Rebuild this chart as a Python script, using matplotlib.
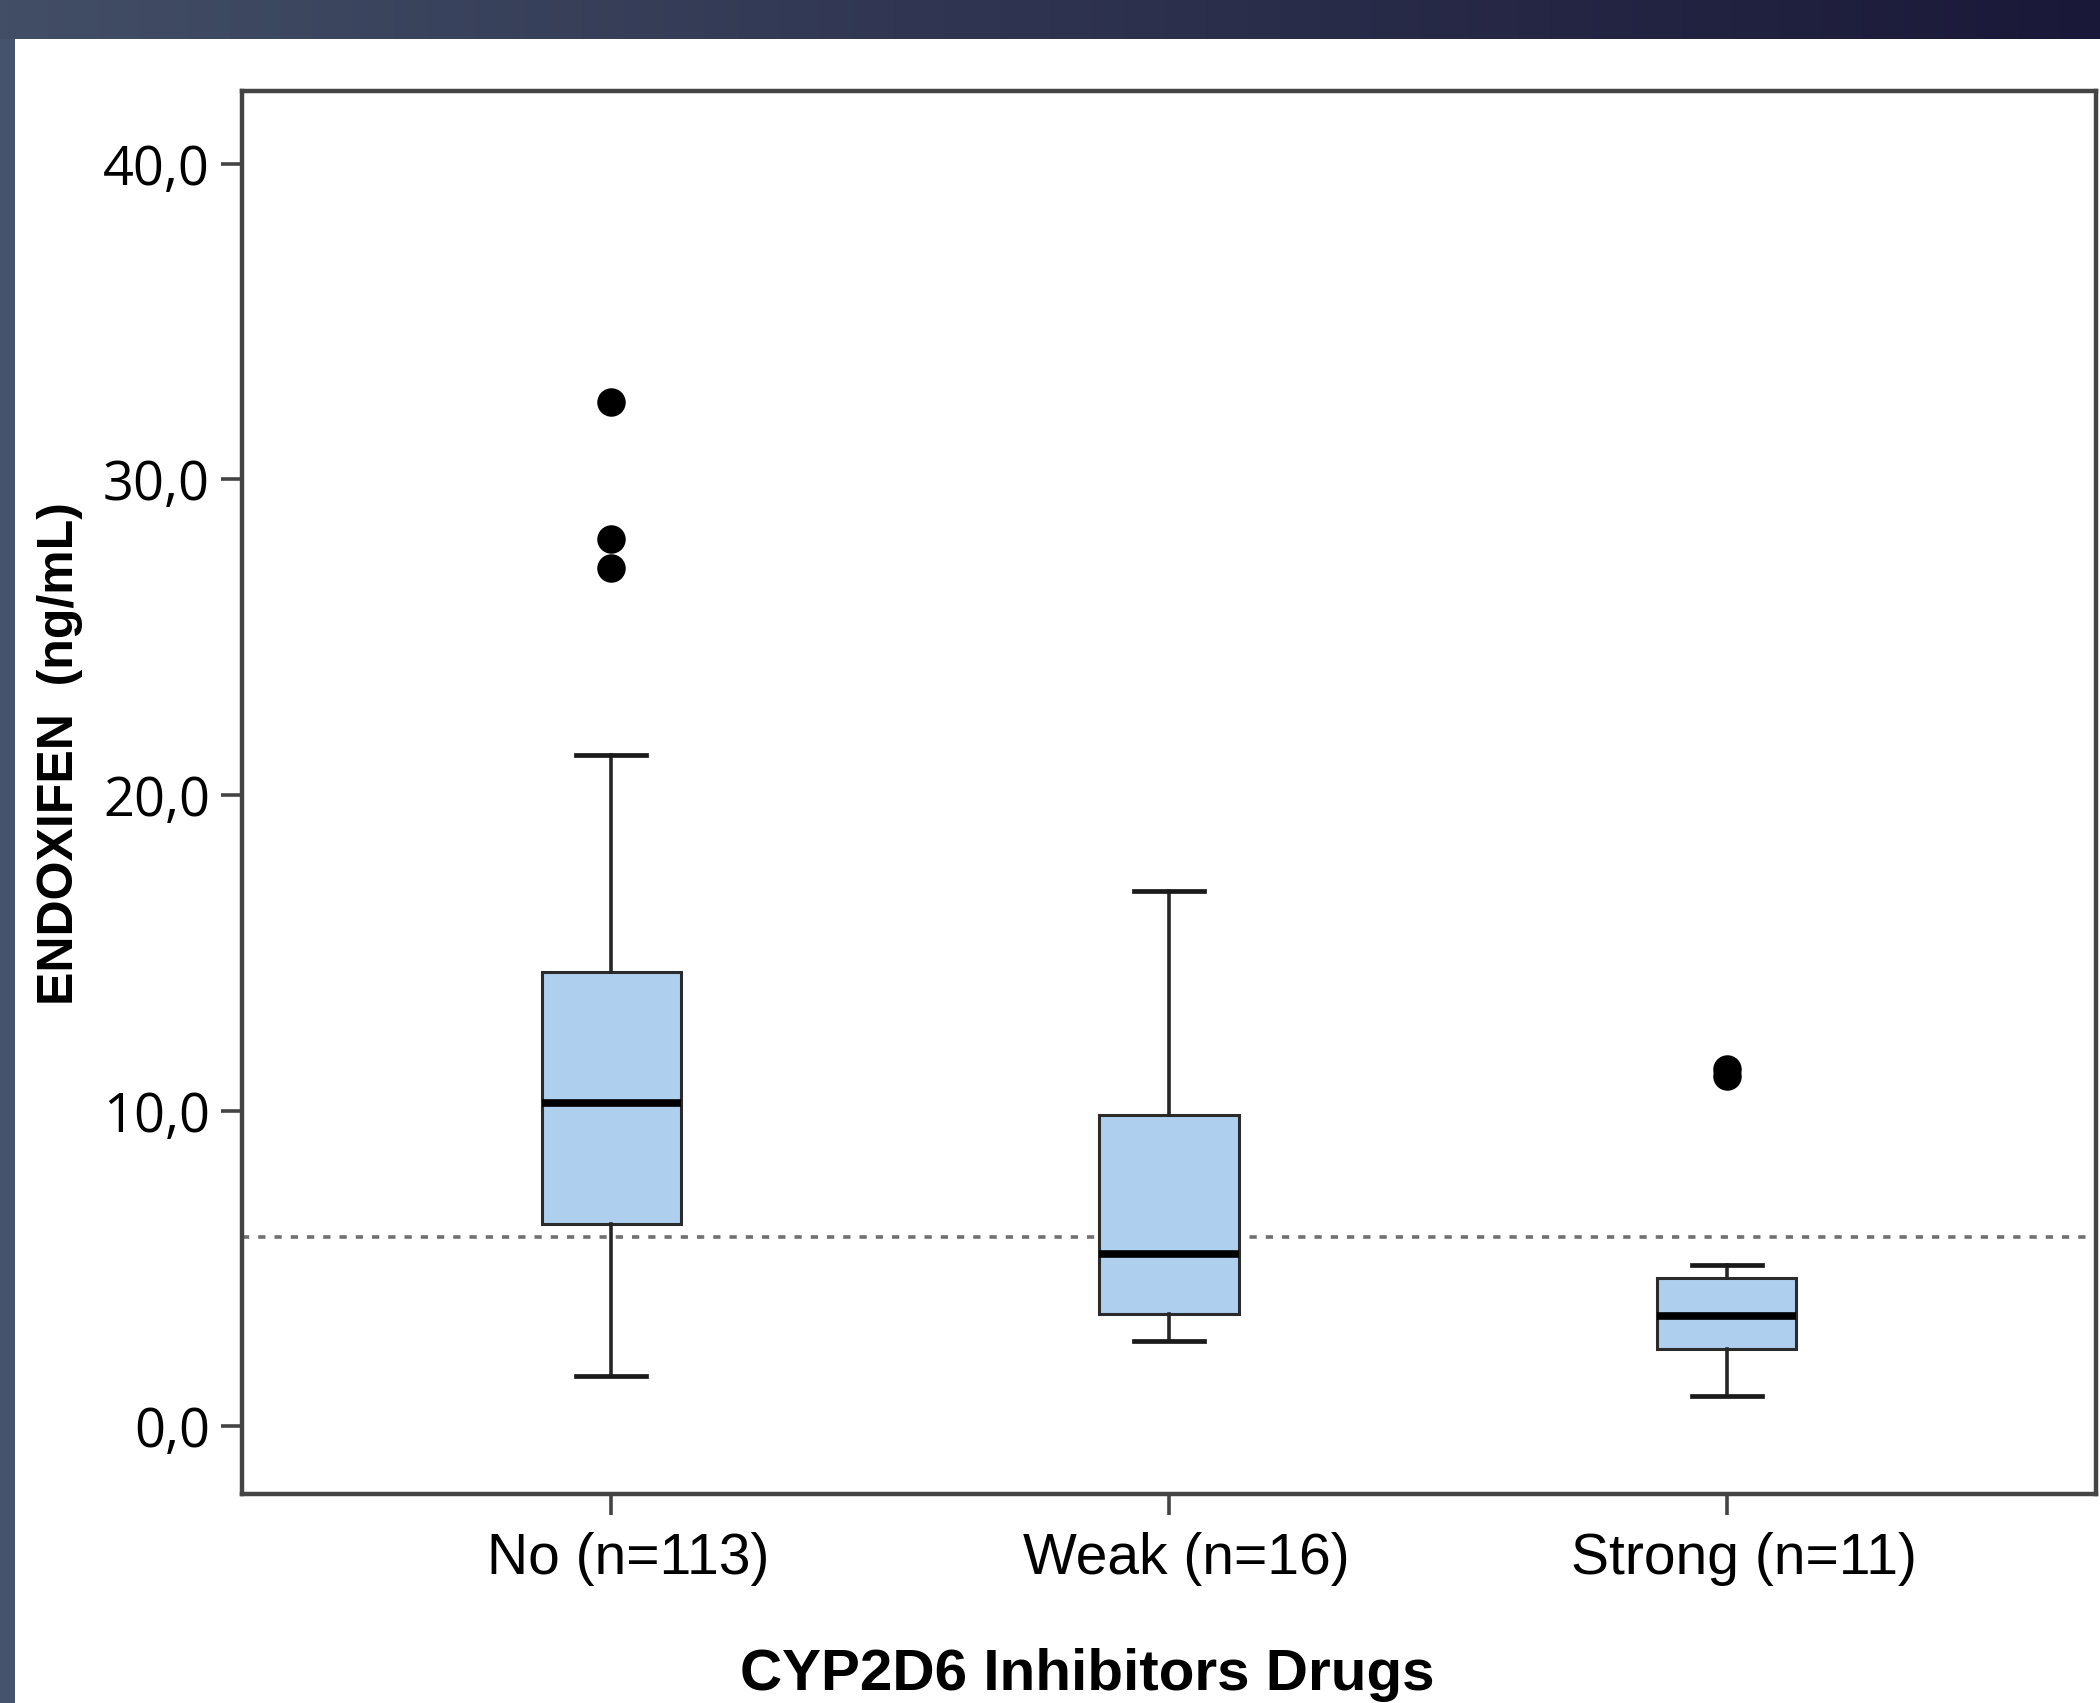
import numpy as np
import matplotlib
matplotlib.use("Agg")
import matplotlib.pyplot as plt
import matplotlib.transforms as mtransforms

# ---------------- data ----------------
categories = ["No (n=113)", "Weak (n=16)", "Strong (n=11)"]
whisker_low = [1.6, 2.7, 0.95]
q1_values = [6.4, 3.55, 2.45]
medians = [10.25, 5.45, 3.48]
q3_values = [14.4, 9.85, 4.7]
whisker_high = [21.25, 16.95, 5.1]
outliers = [[27.2, 28.1, 32.45], [], [11.08, 11.33]]
reference_level = 6.0
y_ticks = [0, 10, 20, 30, 40]
y_tick_labels = ["0,0", "10,0", "20,0", "30,0", "40,0"]
x_label = "CYP2D6 Inhibitors Drugs"
y_label = "ENDOXIFEN  (ng/mL)"

# ---------------- figure ----------------
W, H = 2100, 1703
fig = plt.figure(figsize=(W / 100, H / 100), dpi=100)
fig.patch.set_facecolor("white")

# dark slide frame (top band gradient + left band)
top_h = 39 / H
band = fig.add_axes([0, 1 - top_h, 1, top_h])
grad = np.linspace(0, 1, 256)
c0 = np.array([0x42, 0x4E, 0x66]) / 255
c1 = np.array([0x1A, 0x18, 0x38]) / 255
img = (c0[None, :] * (1 - grad[:, None]) + c1[None, :] * grad[:, None])[None, :, :]
band.imshow(img, aspect="auto", extent=[0, 1, 0, 1])
band.set_axis_off()
left_band = fig.add_axes([0, 0, 15 / W, 1 - top_h])
left_band.set_facecolor("#46536C")
left_band.set_xticks([]); left_band.set_yticks([])
for s in left_band.spines.values():
    s.set_visible(False)

# main axes
ax_l, ax_r, ax_t, ax_b = 242, 2096, 91, 1494
ax = fig.add_axes([ax_l / W, 1 - ax_b / H, (ax_r - ax_l) / W, (ax_b - ax_t) / H])

stats = []
for i, name in enumerate(categories):
    stats.append(dict(label=name, whislo=whisker_low[i], q1=q1_values[i],
                      med=medians[i], q3=q3_values[i], whishi=whisker_high[i],
                      fliers=outliers[i]))

positions = [1, 2, 3]
ax.axhline(reference_level, color="#707070", lw=2.6, ls=(0, (2.0, 2.5)), zorder=1)
ax.bxp(stats, positions=positions, widths=0.25, capwidths=0.125, patch_artist=True,
       boxprops=dict(facecolor="#AED0EE", edgecolor="#2b2b2b", linewidth=2.2),
       medianprops=dict(color="black", linewidth=5.5),
       whiskerprops=dict(color="#262626", linewidth=2.6),
       capprops=dict(color="#1a1a1a", linewidth=3.4),
       flierprops=dict(marker="o", markerfacecolor="black", markeredgecolor="black",
                       markersize=19.5, linestyle="none"),
       zorder=2)

ax.set_xlim(0.338, 3.662)
ax.set_ylim(-2.15, 42.3)

for s in ax.spines.values():
    s.set_color("#444444")
    s.set_linewidth(3.2)

ax.set_yticks(y_ticks)
ax.set_yticklabels(y_tick_labels, fontfamily=["Open Sans", "DejaVu Sans"], fontsize=39)
ax.set_xticks(positions)
ax.set_xticklabels(categories, fontfamily=["Liberation Sans", "DejaVu Sans"], fontsize=41)
ax.tick_params(axis="y", length=15, width=2.6, color="#444444", pad=8)
ax.tick_params(axis="x", length=15, width=2.6, color="#444444", pad=12)

offset = mtransforms.ScaledTranslation(0.17, 0, fig.dpi_scale_trans)
for lab in ax.get_xticklabels():
    lab.set_transform(lab.get_transform() + offset)

ax.set_ylabel(y_label, fontfamily=["Liberation Sans", "DejaVu Sans"], fontsize=36,
              fontweight="bold")
ax.yaxis.set_label_coords(-0.098, 0.528)
ax.yaxis.label.set_verticalalignment("center")

ax.set_xlabel(x_label, fontfamily=["Liberation Sans", "DejaVu Sans"], fontsize=42,
              fontweight="bold")
ax.xaxis.set_label_coords(0.456, -0.129)
ax.xaxis.label.set_verticalalignment("center")

fig.savefig("out.png", dpi=100)
